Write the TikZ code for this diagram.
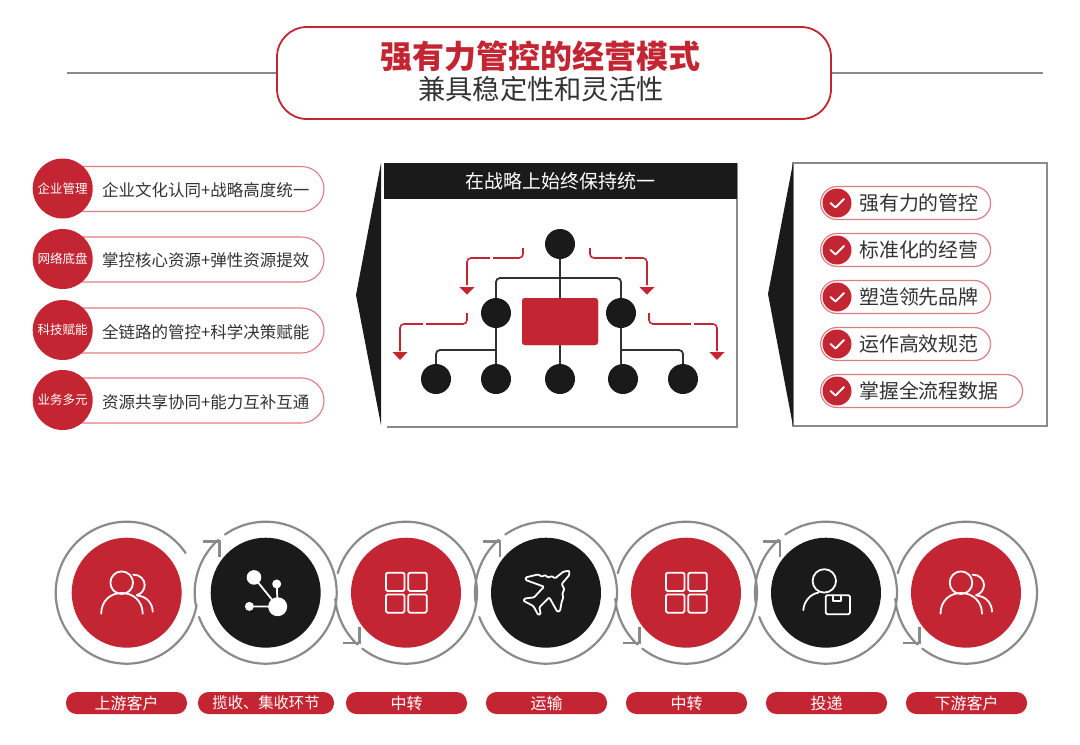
\documentclass[tikz,border=0pt]{standalone}
\usepackage{fontspec}
\setmainfont{Noto Sans CJK SC}
\definecolor{brand}{HTML}{C32632}
\definecolor{ink}{HTML}{1A1A1A}
\definecolor{txt}{HTML}{333333}
\definecolor{ringg}{HTML}{8A8A8A}
\definecolor{pink}{HTML}{DE7C83}
\newcommand{\fs}[1]{\fontsize{#1}{#1}\selectfont}
\newcommand{\ringarc}[4]{\draw[ringline] plot[domain=#3:#4,samples=90] ({#1+71*cos(\x)},{#2-71*sin(\x)});}
\newcommand{\usersicon}[1]{\begin{scope}[shift={(#1)},iconline]
\draw (-5,-10) circle (11.3);
\draw (-25.5,21) .. controls (-25.5,8) and (-16,0.3) .. (-5,0.3) .. controls (6,0.3) and (16,8) .. (16,21);
\draw (6.5,-18) .. controls (13,-18.5) and (18,-13) .. (18,-8) .. controls (18,-3) and (15,1) .. (10,2.5);
\draw (11,3) .. controls (20,3.5) and (26,11) .. (26,19);
\end{scope}}
\newcommand{\gridicon}[1]{\begin{scope}[shift={(#1)},iconline,rounded corners=1.5]
\draw (-20,-20) rectangle (-1.5,-1.7);
\draw (2.3,-20) rectangle (20.7,-1.7);
\draw (-20,1.7) rectangle (-1.5,20);
\draw (2.3,1.7) rectangle (20.7,20);
\end{scope}}
\tikzset{
  ringline/.style={draw=ringg,line width=2.2,line cap=round,line join=miter},
  chevron/.style={draw=ringg,line width=2.6,line cap=butt,line join=miter},
  iconline/.style={draw=white,line width=1.8,line cap=round,line join=round},
  bigdisc/.style={circle,inner sep=0,minimum size=110,draw=none},
  treedot/.style={circle,fill=ink,inner sep=0,minimum size=30,draw=none},
  tieline/.style={draw=ink!90,line width=1.8,rounded corners=4},
  redline/.style={draw=brand,line width=1.6,rounded corners=4},
  redtip/.style={fill=brand,draw=none},
  lpill/.style={draw=pink,line width=1.1,fill=white,rounded corners=22.5,minimum width=272,minimum height=45,inner sep=0},
  ldisc/.style={circle,fill=brand,inner sep=0,minimum size=60,text=white,font=\fs{12.5}},
  ltext/.style={anchor=west,inner sep=0,text=txt,font=\fs{16.5}},
  rpill/.style={draw=pink,line width=1.2,fill=white,rounded corners=16.5,minimum height=33,inner sep=0,anchor=west},
  rdisc/.style={circle,fill=brand,inner sep=0,minimum size=29},
  rtext/.style={anchor=west,inner sep=0,text=txt,font=\fs{19.9}},
  tick/.style={draw=white,line width=1.8,line cap=round,line join=round},
  lab/.style={fill=brand,text=white,rounded corners=10.5,minimum height=22,inner sep=0,font=\fs{16}},
  panelline/.style={draw=ringg,line width=1.8}
}
\begin{document}
\begin{tikzpicture}[x=1pt,y=-1pt]
\useasboundingbox (0,0) rectangle (1080,745);
\fill[white] (0,0) rectangle (1080,745);
% ---- title
\coordinate (ruleL) at (67,73);
\coordinate (ruleR) at (1043,73);
\node[draw=brand,line width=1.8,fill=white,rounded corners=30,minimum width=554,minimum height=92,inner sep=0] (titlebox) at (554,73) {};
\draw[draw=ringg,line width=1.8] (ruleL) -- (titlebox.west);
\draw[draw=ringg,line width=1.8] (titlebox.east) -- (ruleR);
\node[inner sep=0,text=brand,font=\fs{32}\bfseries] (title) at (540.5,56) {强有力管控的经营模式};
\node[inner sep=0,text=txt,font=\fs{27.3}] (subtitle) at (541,89) {兼具稳定性和灵活性};
% ---- left list
\foreach \i/\y/\yy/\ty/\a/\b in {1/189/188.5/190/企业管理/企业文化认同+战略高度统一,2/259.5/259/260.5/网络底盘/掌控核心资源+弹性资源提效,3/330.5/330/332/科技赋能/全链路的管控+科学决策赋能,4/400.5/400/402/业务多元/资源共享协同+能力互补互通}{
  \node[lpill] (lp\i) at (188,\y) {};
  \node[ldisc] (ld\i) at (62.7,\yy) {\a};
  \node[ltext] (lt\i) at (102,\ty) {\b};
}
% ---- centre panel
\coordinate (pTL) at (737,163);
\coordinate (pBR) at (737,427);
\coordinate (pBL) at (387,427);
\draw[panelline] (pBL) -- (pBR) -- (pTL);
\fill[ink] (381,163) -- (356,295) -- (381,425) -- cycle;
\node[fill=ink,minimum width=353,minimum height=36,inner sep=0,text=white,font=\fs{19}] (head) at (560.5,181) {在战略上始终保持统一};
% tree
\node[treedot] (root) at (560,244) {};
\node[treedot] (midL) at (496,313) {};
\node[treedot] (midR) at (621,313) {};
\node[fill=brand,rounded corners=3,minimum width=76,minimum height=47,inner sep=0] (core) at (560,321.5) {};
\node[treedot] (leafA) at (436,379) {};
\node[treedot] (leafB) at (496,379) {};
\node[treedot] (leafC) at (560,379) {};
\node[treedot] (leafD) at (623,379) {};
\node[treedot] (leafE) at (683,379) {};
\draw[tieline] (root) -- (core);
\draw[tieline] (midL.north) |- (560,278) -| (midR.north);
\draw[tieline] (midL) -- (leafB);
\draw[tieline] (midR.south) -- (leafD.north -| midR);
\draw[tieline] (core) -- (leafC);
\draw[tieline] (leafA.north) |- (496,350);
\draw[tieline] (leafE.north) |- (622,350);
\node[fill=brand,rounded corners=3,minimum width=76,minimum height=47,inner sep=0] (corecap) at (560,321.5) {};
% red arrows
\coordinate (r1a) at (523,248); \coordinate (r1b) at (467,285);
\draw[redline] (r1a) |- (493,258);
\draw[redline] (490,258) -| (r1b);
\fill[redtip] (459.5,287) -- (474.5,287) -- (467,294.5) -- cycle;
\coordinate (r2a) at (590,248); \coordinate (r2b) at (647,285);
\draw[redline] (r2a) |- (622,258);
\draw[redline] (625,258) -| (r2b);
\fill[redtip] (639.5,287) -- (654.5,287) -- (647,294.5) -- cycle;
\coordinate (r3a) at (467,313); \coordinate (r3b) at (400,351);
\draw[redline] (r3a) |- (426,324);
\draw[redline] (423,324) -| (r3b);
\fill[redtip] (392.5,352) -- (407.5,352) -- (400,360) -- cycle;
\coordinate (r4a) at (649,313); \coordinate (r4b) at (717,351);
\draw[redline] (r4a) |- (691,324);
\draw[redline] (694,324) -| (r4b);
\fill[redtip] (709.5,352) -- (724.5,352) -- (717,360) -- cycle;
% ---- right panel
\node[draw=ringg,line width=2,fill=white,minimum width=254,minimum height=263,inner sep=0] (rightbox) at (920,294.5) {};
\fill[ink] (793,163) -- (768,294) -- (793,426) -- cycle;
\foreach \i/\y/\w/\t in {1/203/170/强有力的管控,2/250/170/标准化的经营,3/297/170/塑造领先品牌,4/344/170/运作高效规范,5/391/202/掌握全流程数据}{
  \node[rpill,minimum width=\w] (rp\i) at (820,\y) {};
  \node[rdisc] (rd\i) at (837,\y) {};
  \draw[tick] (830.5,\y) -- (835.5,\y+4.5) -- (844,\y-4);
  \node[rtext] (rt\i) at (859,\y) {\t};
}
% ---- ring flow
\foreach \c/\yc in {406/592.7,686/592.7,966/592.7}{
  \ringarc{\c}{\yc}{232}{524}
}
\ringarc{126.7}{592.7}{34}{350}
\foreach \c/\yc in {265.7/592.7,546/592.7,826/592.7}{
  \ringarc{\c}{\yc}{125}{-160}
  \ringarc{\c}{\yc}{190}{132}
  \draw[chevron] (\c-63,\yc-51) -- (\c-46,\yc-51) -- (\c-46,\yc-36);
}
\foreach \c/\yc in {406/592.7,686/592.7,966/592.7}{
  \ringarc{\c}{\yc}{185}{227}
  \draw[chevron] (\c-63.5,\yc+50.3) -- (\c-46.7,\yc+50.3) -- (\c-46.7,\yc+34);
}
\node[bigdisc,fill=brand] (d1) at (126.7,592.7) {};
\node[bigdisc,fill=ink] (d2) at (265.7,592.7) {};
\node[bigdisc,fill=brand] (d3) at (406,592.7) {};
\node[bigdisc,fill=ink] (d4) at (546,592.7) {};
\node[bigdisc,fill=brand] (d5) at (686,592.7) {};
\node[bigdisc,fill=ink] (d6) at (826,592.7) {};
\node[bigdisc,fill=brand] (d7) at (966,592.7) {};
\usersicon{126.7,592.7}
\usersicon{966,592.7}
\gridicon{406,592.7}
\gridicon{686,592.7}
% network icon
\begin{scope}[shift={(265.7,592.7)}]
\draw[iconline] (12,14) -- (-11.7,-15.3);
\draw[iconline] (12,14) -- (11,-8.7);
\draw[iconline] (12,14) -- (-16.3,13.7);
\fill[white] (12,14) circle (9.5);
\fill[white] (-11.7,-15.3) circle (7.3);
\fill[white] (11,-8.7) circle (4.5);
\fill[white] (-16.3,13.7) circle (4.5);
\end{scope}
% plane icon
\begin{scope}[shift={(546,592.7)}]
\draw[iconline,rounded corners=1] (23.3,-22) -- (17.3,-21) -- (9,-14.3) -- (5.7,-16.7) -- (2.3,-15) -- (-1,-17.7) -- (-4.3,-16) -- (-7.7,-18.3) -- (-20.3,-15.3) -- (-20.3,-12.7) -- (-2,-6) -- (-12,4.7) -- (-21,5.7) -- (-22.7,8) -- (-12.7,13.3) -- (-7.7,22.3) -- (-5.3,21.3) -- (-6.7,14.7) -- (3.3,4.7) -- (11.3,19) -- (14,18.3) -- (15.7,9) -- (17.3,4.7) -- (16.3,0.7) -- (18.3,-3.3) -- (15.7,-8.7) -- (23.3,-17.7) -- cycle;
\end{scope}
% person + parcel icon
\begin{scope}[shift={(826,592.7)},iconline]
\draw (-1.7,-11.8) circle (11.7);
\draw (-22.7,17.5) .. controls (-22,8) and (-15,1) .. (-7.7,0);
\draw[rounded corners=1.5] (-0.3,2.5) rectangle (24,21.5);
\draw (7.3,2.5) -- (7.3,8.5) -- (14.7,8.5) -- (14.7,2.5);
\end{scope}
% ---- labels
\node[lab,minimum width=121] (l1) at (126.5,703) {上游客户};
\node[lab,minimum width=136,font=\fs{15.3}] (l2) at (266,703) {揽收、集收环节};
\node[lab,minimum width=121] (l3) at (406.5,703) {中转};
\node[lab,minimum width=121] (l4) at (546.5,703) {运输};
\node[lab,minimum width=121] (l5) at (686.5,703) {中转};
\node[lab,minimum width=121] (l6) at (826.5,703) {投递};
\node[lab,minimum width=121] (l7) at (966.5,703) {下游客户};
\end{tikzpicture}
\end{document}
